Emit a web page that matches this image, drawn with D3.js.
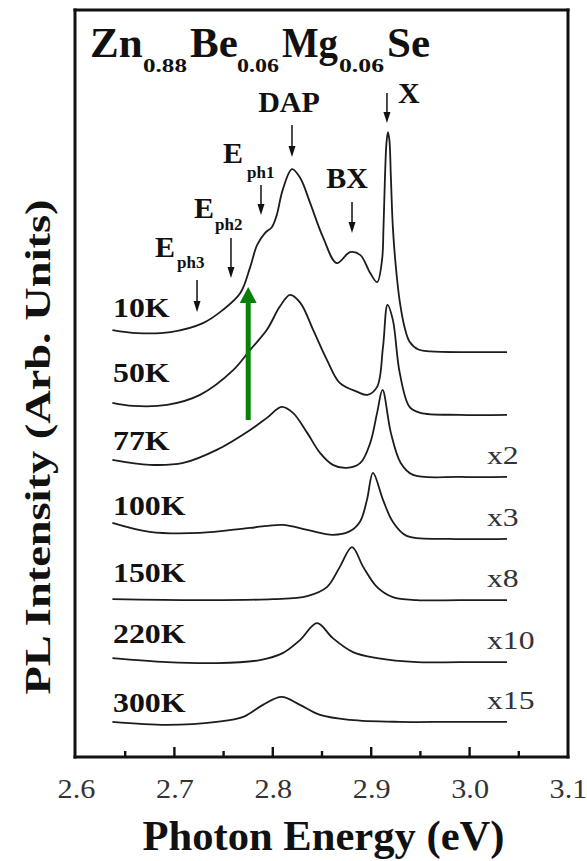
<!DOCTYPE html>
<html>
<head>
<meta charset="utf-8">
<script src="https://cdn.jsdelivr.net/npm/d3@7"></script>
<style>
  html, body { margin: 0; padding: 0; background: #fff; overflow: hidden; }
  svg { display: block; }
  text { font-family: "Liberation Serif", "Times New Roman", serif; }
</style>
</head>
<body>
<svg id="chart" width="587" height="861"></svg>
<script>
// ---- data -------------------------------------------------------------
const energyTicks = [2.6, 2.7, 2.8, 2.9, 3.0, 3.1];
const minorTicks = [2.65, 2.75, 2.85, 2.95, 3.05];
const temperatures = ["10K", "50K", "77K", "100K", "150K", "220K", "300K"];
const multipliers = ["", "", "x2", "x3", "x8", "x10", "x15"];
// vertical stacking offset of each spectrum (arb. units)
const offsets = [54.2, 45.8, 37.5, 29.2, 21.0, 12.7, 4.7];

// [photon energy (eV), PL intensity above the spectrum's own baseline]
const spectrum10K = [
  [2.637, 2.95], [2.662, 2.54], [2.696, 2.68], [2.729, 3.88], [2.749, 5.62],
  [2.767, 7.90], [2.777, 11.38], [2.784, 14.32], [2.792, 15.93], [2.799, 16.73],
  [2.804, 18.34], [2.810, 21.69], [2.8195, 24.50], [2.828, 23.29], [2.838, 19.95],
  [2.851, 15.39], [2.865, 11.91], [2.8785, 13.39], [2.889, 12.99], [2.899, 10.58],
  [2.906, 9.37], [2.911, 12.32], [2.9125, 16.73], [2.914, 23.43], [2.9155, 27.98],
  [2.917, 29.45], [2.9185, 28.38], [2.920, 23.43], [2.922, 16.73], [2.925, 11.5],
  [2.929, 6.8], [2.934, 3.3], [2.939, 1.4], [2.948, 0.35], [2.960, 0.1],
  [3.000, 0], [3.038, 0]
];
const spectrum50K = [
  [2.637, 1.61], [2.658, 1.20], [2.6925, 1.34], [2.726, 2.68], [2.760, 6.02],
  [2.777, 8.70], [2.794, 11.38], [2.807, 14.46], [2.8175, 16.06], [2.828, 14.99],
  [2.841, 11.38], [2.855, 7.36], [2.868, 4.28], [2.886, 3.08], [2.896, 2.68],
  [2.906, 3.75], [2.912, 9.10], [2.9166, 14.73], [2.922, 12.72], [2.929, 5.62],
  [2.939, 1.07], [2.950, 0.27], [2.990, 0], [3.038, 0]
];
const spectrum77K = [
  [2.637, 2.28], [2.675, 1.61], [2.709, 1.87], [2.743, 3.61], [2.777, 6.29],
  [2.794, 7.90], [2.809, 9.37], [2.8205, 8.57], [2.835, 5.89], [2.848, 3.21],
  [2.861, 1.61], [2.875, 1.20], [2.889, 1.87], [2.899, 4.55], [2.906, 8.57],
  [2.9115, 11.65], [2.920, 5.89], [2.930, 1.87], [2.9425, 0.27], [2.990, 0],
  [3.038, 0]
];
const spectrum100K = [
  [2.637, 2.14], [2.675, 0.94], [2.726, 0.80], [2.777, 1.47], [2.810, 1.87],
  [2.835, 1.20], [2.861, 0.54], [2.878, 1.0], [2.8886, 2.3],
  [2.8957, 5.22], [2.9018, 8.84], [2.912, 5.22], [2.922, 2.28], [2.936, 0.40],
  [2.980, 0], [3.038, 0]
];
const spectrum150K = [
  [2.637, 0.13], [2.726, 0], [2.800, 0.13], [2.835, 0.54], [2.855, 1.74],
  [2.868, 4.42], [2.8805, 7.10], [2.892, 4.42], [2.906, 1.74], [2.922, 0.40],
  [2.9465, 0], [2.990, 0], [3.038, 0]
];
const spectrum220K = [
  [2.637, 0.54], [2.6925, 0], [2.743, -0.13], [2.787, 0.27], [2.810, 1.20],
  [2.8276, 2.95], [2.845, 5.22], [2.861, 3.21], [2.8815, 1.34], [2.906, 0.54],
  [2.9465, 0], [2.990, 0], [3.038, 0]
];
const spectrum300K = [
  [2.637, 0], [2.6925, -0.40], [2.743, 0], [2.770, 0.67], [2.790, 2.28],
  [2.809, 3.35], [2.8276, 2.28], [2.848, 0.94], [2.8785, 0.27], [2.929, 0],
  [2.980, 0], [3.038, 0]
];
const spectra = [spectrum10K, spectrum50K, spectrum77K, spectrum100K,
                 spectrum150K, spectrum220K, spectrum300K];

// emission lines marked on the 10 K spectrum
const lineNames = ["E", "E", "E", "DAP", "BX", "X"];
const lineSubs = ["ph3", "ph2", "ph1", "", "", ""];
const lineEnergies = [2.723, 2.7575, 2.788, 2.8195, 2.8805, 2.916];
const highlightEnergy = 2.775;

// ---- layout -----------------------------------------------------------
const frame = { left: 75, right: 568, top: 10, bottom: 757 };
const svg = d3.select("#chart");

const x = d3.scaleLinear().domain([2.6, 3.1]).range([76, 568]);
const y = d3.scaleLinear().domain([0, 100]).range([frame.bottom, frame.top]);

function stretch(sel, f) {
  sel.each(function () {
    const w = this.getComputedTextLength();
    d3.select(this).attr("textLength", w * f).attr("lengthAdjust", "spacingAndGlyphs");
  });
}

// spectra
const line = d3.line()
  .x(d => x(d[0]))
  .y(d => y(d[1]))
  .curve(d3.curveCatmullRom.alpha(0.5));

svg.append("g")
  .selectAll("path")
  .data(spectra)
  .join("path")
  .attr("d", (s, i) => line(s.map(p => [p[0], p[1] + offsets[i]])))
  .attr("fill", "none")
  .attr("stroke", "#1c1c1c")
  .attr("stroke-width", 1.8)
  .attr("stroke-linejoin", "round");

// temperature labels
const tempLift = [35, 33, 27, 24, 18, 19, 10];
svg.append("g")
  .selectAll("text")
  .data(temperatures)
  .join("text")
  .attr("x", 113)
  .attr("y", (d, i) => y(offsets[i]) - tempLift[i])
  .attr("font-size", 27)
  .attr("font-weight", "bold")
  .attr("fill", "#111")
  .text(d => d)
  .call(stretch, 1.18);

// scale factors
svg.append("g")
  .selectAll("text")
  .data(multipliers)
  .join("text")
  .attr("x", 487)
  .attr("y", (d, i) => y(offsets[i]) - 13)
  .attr("font-size", 26)
  .attr("fill", "#333")
  .text(d => d)
  .call(stretch, 1.22);

// emission line markers
const markLayout = [
  { top: 280, bottom: 312, ex: -42, ey: 257, sx: -20, sy: 268 },
  { top: 238, bottom: 278, ex: -37, ey: 218, sx: -16, sy: 230 },
  { top: 185, bottom: 215, ex: -38, ey: 163, sx: -14, sy: 178 },
  { top: 125, bottom: 157, cx: -3, ey: 112 },
  { top: 202, bottom: 233, cx: -5, ey: 188 },
  { top: 93, bottom: 123, ex: 11, ey: 103 }
];
const marks = svg.append("g");
lineEnergies.forEach((e, i) => {
  const L = markLayout[i];
  const xe = x(e);
  marks.append("line")
    .attr("x1", xe).attr("x2", xe)
    .attr("y1", L.top).attr("y2", L.bottom - 8)
    .attr("stroke", "#111").attr("stroke-width", 1.5);
  marks.append("path")
    .attr("d", `M${xe - 3.5},${L.bottom - 11} L${xe + 3.5},${L.bottom - 11} L${xe},${L.bottom} Z`)
    .attr("fill", "#111");
  const t = marks.append("text")
    .attr("y", L.ey)
    .attr("font-size", 30)
    .attr("font-weight", "bold")
    .attr("fill", "#111")
    .text(lineNames[i]);
  if (L.cx !== undefined) t.attr("x", xe + L.cx).attr("text-anchor", "middle");
  else t.attr("x", xe + L.ex);
  if (lineSubs[i]) {
    marks.append("text")
      .attr("x", xe + L.sx)
      .attr("y", L.sy)
      .attr("font-size", 17)
      .attr("font-weight", "bold")
      .attr("fill", "#111")
      .text(lineSubs[i]);
  }
});

// green highlight arrow
const gx = x(highlightEnergy);
svg.append("line")
  .attr("x1", gx).attr("x2", gx)
  .attr("y1", 420).attr("y2", 300)
  .attr("stroke", "#0a7f0a").attr("stroke-width", 5);
svg.append("path")
  .attr("d", `M${gx - 8.5},303 L${gx + 8.5},303 L${gx},287 Z`)
  .attr("fill", "#0a7f0a");

// title: Zn0.88Be0.06Mg0.06Se
const titleParts = [
  { t: "Zn", x: 90, sub: false },
  { t: "0.88", x: 143, sub: true, w: 44 },
  { t: "Be", x: 190, sub: false },
  { t: "0.06", x: 237, sub: true, w: 42 },
  { t: "Mg", x: 282, sub: false, w: 56 },
  { t: "0.06", x: 339, sub: true, w: 45 },
  { t: "Se", x: 387, sub: false }
];
titleParts.forEach(p => {
  const t = svg.append("text")
    .attr("x", p.x)
    .attr("y", p.sub ? 72 : 57)
    .attr("font-size", p.sub ? 18 : 43)
    .attr("font-weight", "bold")
    .attr("fill", "#111")
    .text(p.t);
  if (p.w) t.attr("textLength", p.w).attr("lengthAdjust", "spacingAndGlyphs");
});

// x axis tick labels
const axisMajor = d3.axisBottom(x)
  .tickValues(energyTicks)
  .tickSize(0)
  .tickPadding(21)
  .tickFormat(d3.format(".1f"));
const gMajor = svg.append("g")
  .attr("transform", `translate(0,${frame.bottom})`)
  .call(axisMajor);
gMajor.select(".domain").remove();
gMajor.selectAll(".tick line").remove();
gMajor.selectAll(".tick text")
  .attr("font-size", 28)
  .attr("font-family", "'Liberation Serif', 'Times New Roman', serif")
  .attr("fill", "#333")
  .call(stretch, 1.08);

// axis titles
svg.append("text")
  .attr("x", (frame.left + frame.right) / 2 + 2)
  .attr("y", 850)
  .attr("text-anchor", "middle")
  .attr("font-size", 43)
  .attr("font-weight", "bold")
  .attr("fill", "#111")
  .attr("textLength", 362)
  .attr("lengthAdjust", "spacingAndGlyphs")
  .text("Photon Energy (eV)");

svg.append("text")
  .attr("transform", "translate(50,447) rotate(-90)")
  .attr("text-anchor", "middle")
  .attr("font-size", 36)
  .attr("font-weight", "bold")
  .attr("fill", "#111")
  .attr("textLength", 495)
  .attr("lengthAdjust", "spacingAndGlyphs")
  .text("PL Intensity (Arb. Units)");

// inward ticks on the energy axis (drawn on top)
const tickMarks = energyTicks.slice(1, -1).map(v => [v, 10])
  .concat(minorTicks.map(v => [v, 6]));
svg.append("g")
  .selectAll("rect")
  .data(tickMarks)
  .join("rect")
  .attr("x", d => x(d[0]) - 1.2)
  .attr("y", d => frame.bottom - d[1])
  .attr("width", 2.4)
  .attr("height", d => d[1])
  .attr("fill", "#111");

// plot frame, drawn last as four solid bars
const bw = 3;
const frameBars = [
  [frame.left - bw / 2, frame.top - bw / 2, frame.right - frame.left + bw, bw],
  [frame.left - bw / 2, frame.bottom - bw / 2, frame.right - frame.left + bw, bw],
  [frame.left - bw / 2, frame.top - bw / 2, bw, frame.bottom - frame.top + bw],
  [frame.right - bw / 2, frame.top - bw / 2, bw, frame.bottom - frame.top + bw]
];
svg.append("g")
  .selectAll("rect")
  .data(frameBars)
  .join("rect")
  .attr("x", d => d[0]).attr("y", d => d[1])
  .attr("width", d => d[2]).attr("height", d => d[3])
  .attr("fill", "#111");
</script>
</body>
</html>
